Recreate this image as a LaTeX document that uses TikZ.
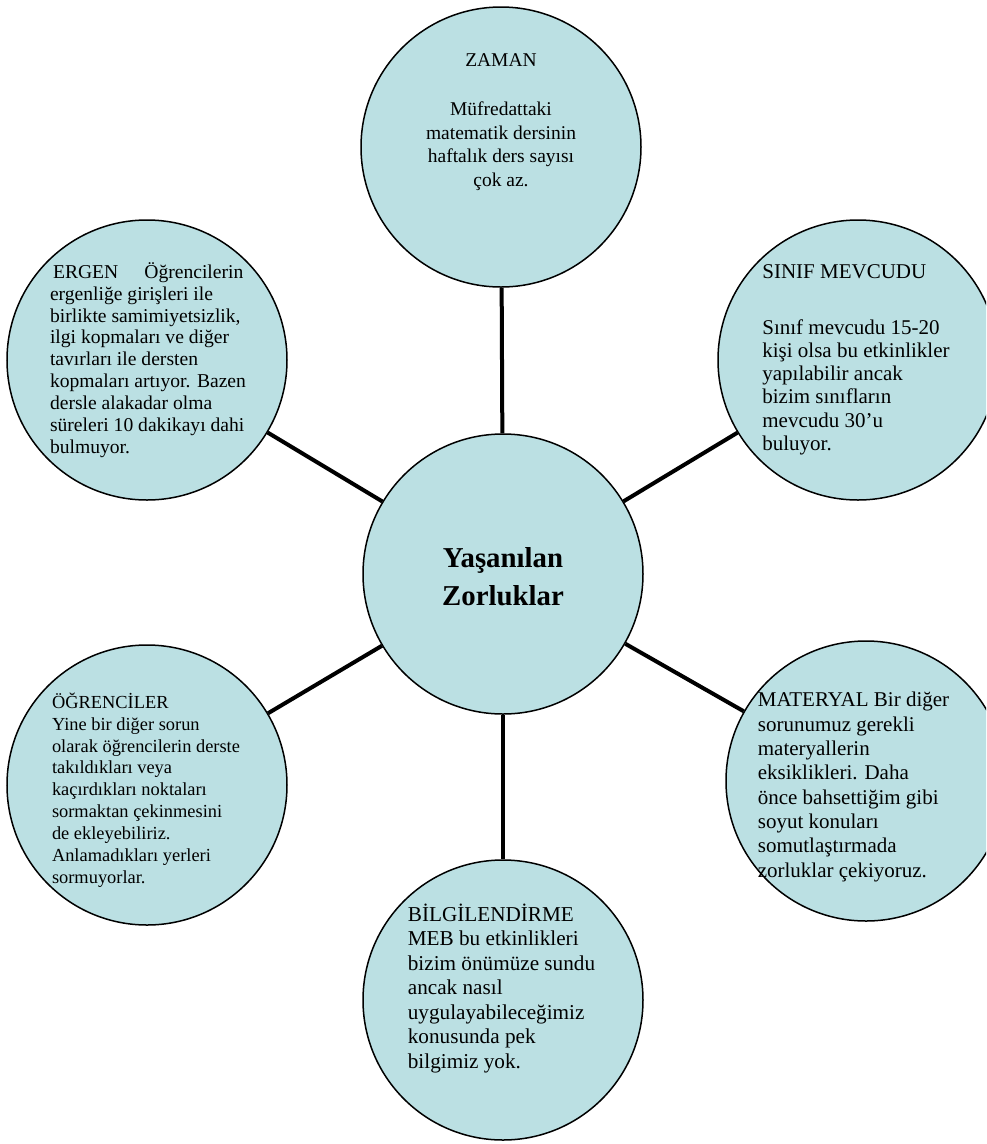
\documentclass[tikz,border=0pt]{standalone}
\usepackage{fontspec}
\setmainfont{Liberation Serif}
\definecolor{balonrengi}{RGB}{187,224,227}
\tikzset{
balon/.style={circle,draw=black,line width=1.5pt,fill=balonrengi,minimum size=280pt,inner sep=0pt},
bag/.style={line width=4pt},
yazi/.style={inner sep=0pt,align=left},
}
\begin{document}
\begin{tikzpicture}[x=1pt,y=-1pt]
\useasboundingbox (0,0) rectangle (986,1144);
\clip (0,0) rectangle (986,1144);
\foreach \ad/\kx/\ky in {merkez/503/574,zaman/501/147,sinif/858/360,ergen/147/360,ogrenci/147/785,materyal/866/781,bilgi/503/1000}{\node[balon] (\ad) at (\kx,\ky) {};}
\foreach \ad in {zaman,sinif,materyal,bilgi,ogrenci,ergen}{\draw[bag](merkez)--(\ad);}
\node[yazi,align=center,font=\bfseries\fontsize{28.8}{38}\selectfont] (merkezyazi) at (503,577) {Yaşanılan\\Zorluklar};
\node[yazi,align=center,font=\fontsize{19.5}{23.5}\selectfont] (zamanyazi) at (501,122) {ZAMAN\\[26pt]Müfredattaki\\matematik dersinin\\haftalık ders sayısı\\çok az.};
\node[yazi,font=\fontsize{21}{23.3}\selectfont] (sinifyazi) at (856,360) {SINIF MEVCUDU\\[32pt]Sınıf mevcudu 15-20\\kişi olsa bu etkinlikler\\yapılabilir ancak\\bizim sınıfların\\mevcudu 30’u\\buluyor.};
\node[yazi,font=\fontsize{19.6}{21.9}\selectfont] (ergenyazi) at (148,360) {\hspace*{3pt}ERGEN\hspace{26pt}Öğrencilerin\\ergenliğe girişleri ile\\birlikte samimiyetsizlik,\\ilgi kopmaları ve diğer\\tavırları ile dersten\\kopmaları artıyor. Bazen\\dersle alakadar olma\\süreleri 10 dakikayı dahi\\bulmuyor.};
\node[yazi,font=\fontsize{18.4}{21.9}\selectfont] (ogrenciyazi) at (146,790) {ÖĞRENCİLER\\Yine bir diğer sorun\\olarak öğrencilerin derste\\takıldıkları veya\\kaçırdıkları noktaları\\sormaktan çekinmesini\\de ekleyebiliriz.\\Anlamadıkları yerleri\\sormuyorlar.};
\node[yazi,font=\fontsize{21}{24.3}\selectfont] (materyalyazi) at (853.5,787) {MATERYAL Bir diğer\\sorunumuz gerekli\\materyallerin\\eksiklikleri. Daha\\önce bahsettiğim gibi\\soyut konuları\\somutlaştırmada\\zorluklar çekiyoruz.};
\node[yazi,font=\fontsize{21.2}{24.5}\selectfont] (bilgiyazi) at (501.5,988.5) {BİLGİLENDİRME\\MEB bu etkinlikleri\\bizim önümüze sundu\\ancak nasıl\\uygulayabileceğimiz\\konusunda pek\\bilgimiz yok.};
\end{tikzpicture}
\end{document}
